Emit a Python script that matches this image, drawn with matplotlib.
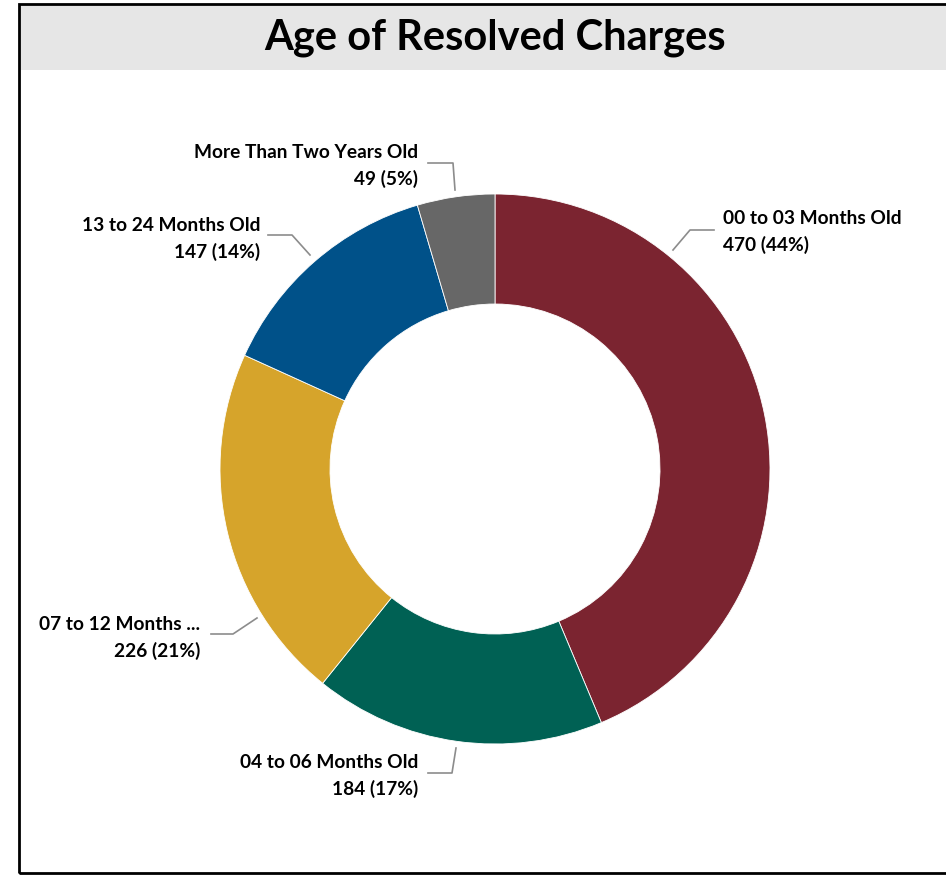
import matplotlib.pyplot as plt
from matplotlib.patches import Rectangle

categories = ["00 to 03 Months Old", "04 to 06 Months Old", "07 to 12 Months ...",
              "13 to 24 Months Old", "More Than Two Years Old"]
counts = [470, 184, 226, 147, 49]
colors = ["#7b2430", "#006154", "#d6a42b", "#005189", "#676767"]

W, H = 946, 875
plt.rcParams['font.family'] = ['Lato', 'DejaVu Sans']

fig = plt.figure(figsize=(W / 100, H / 100), dpi=100)
ax = fig.add_axes([0, 0, 1, 1])


def px(x, y):
    # image pixel (y down) -> data coords (y up)
    return x, H - y


# donut
ax.pie(counts, colors=colors, startangle=90, counterclock=False,
       center=px(495, 469), radius=275,
       wedgeprops=dict(width=110, edgecolor='white', linewidth=0.6))

# frame + title band
ax.add_patch(Rectangle(px(19, 873), 940, 869, fill=False, edgecolor='black', lw=2, zorder=5))
ax.add_patch(Rectangle(px(20, 70), 930, 65, facecolor='#e6e6e6', edgecolor='none', zorder=4))
ax.text(*px(495, 38), "Age of Resolved Charges", ha='center', va='center',
        fontsize=30, fontweight='bold', zorder=6)

# label placement: leader line points and text anchor (pixels)
leaders = [
    [(673, 250), (690, 230), (714, 230)],
    [(456, 748), (452, 773), (428, 773)],
    [(257, 618), (233, 634), (211, 634)],
    [(310, 255), (292, 235), (268, 235)],
    [(455, 190), (453, 163), (428, 163)],
]
anchors = [(723, 232, 'left'), (418, 776, 'right'), (200, 638, 'right'),
           (260, 239, 'right'), (418, 166, 'right')]

total = sum(counts)
for cat, n, pts, (tx, ty, ha) in zip(categories, counts, leaders, anchors):
    xs, ys = zip(*[px(*p) for p in pts])
    ax.plot(xs, ys, color='#8c8c8c', lw=1.2)
    ax.text(*px(tx, ty), f"{cat}\n{n} ({n / total:.0%})", ha=ha, va='center',
            multialignment=ha, fontsize=13.8, fontweight='bold', linespacing=1.55)

ax.set_xlim(0, W)
ax.set_ylim(0, H)
ax.set_aspect('auto')
ax.axis('off')

fig.savefig("out.png", dpi=100)
